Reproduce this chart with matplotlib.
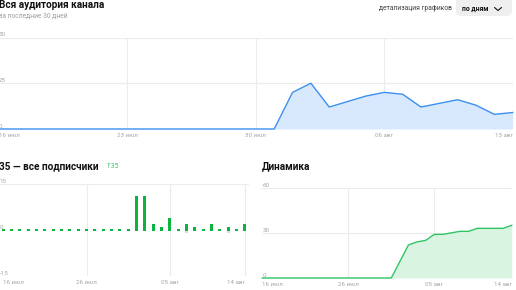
import numpy as np
import matplotlib
matplotlib.use("Agg")
import matplotlib.pyplot as plt
from matplotlib.patches import FancyBboxPatch

plt.rcParams['font.family'] = ['Roboto', 'DejaVu Sans']

# ---- data ----
# top chart: all audience, 16 Jul .. 13 Aug
aud_days = list(range(29))
audience = [0, 0, 0, 0, 0, 0, 0, 0, 0, 0, 0, 0, 0, 0, 0, 0,
            20, 25, 12, 15, 18, 20, 19, 12, 14, 16, 13, 8, 9]
aud_ticks = [0, 7, 14, 21, 28]
aud_labels = ["16 июл", "23 июл", "30 июл", "06 авг", "13 авг"]
aud_yticks = [0, 25, 50]

# subscribers, 16 Jul .. 14 Aug
sub_days = list(range(30))
joined = [0, 0, 0, 0, 0, 0, 0, 0, 0, 0, 0, 0, 0, 0, 0, 0,
          11, 11, 2, 1, 4, 0, 2, 1, 0, 2, 0, 1, 0, 2]
left = [0, 0, 0, 0, 0, 0, 0, 0, 0, 0, 0, 0, 0, 0, 0, 0,
        0, 0, 0, 0, 0, 0, -1, 0, 0, 0, 0, -1, 0, 0]
total = [0, 0, 0, 0, 0, 0, 0, 0, 0, 0, 0, 0, 0, 0, 0, 0,
         11, 22, 24, 25, 29, 29, 30, 31, 31, 33, 33, 33, 33, 35]
sub_ticks = [0, 10, 20, 29]
sub_labels = ["16 июл", "26 июл", "05 авг", "14 авг"]
bar_yticks = [-15, 0, 15]
dyn_yticks = [0, 30, 60]

W, H = 516, 290
fig = plt.figure(figsize=(W / 100, H / 100), dpi=100)
fig.patch.set_facecolor("white")

GRID = "#ececec"
TICK = "#a8a8a8"


def px_axes(x0, y0, x1, y1):
    # pixel box (top-left origin) -> figure axes
    return fig.add_axes([x0 / W, 1 - y1 / H, (x1 - x0) / W, (y1 - y0) / H])


def style(ax, ticks, labels, yticks):
    for s in ax.spines.values():
        s.set_visible(False)
    ax.set_yticks([])
    ax.set_xticks(ticks, labels)
    ax.tick_params(axis="x", length=0, labelsize=4.5, labelcolor=TICK, pad=3)
    lb = ax.get_xticklabels()
    lb[0].set_ha("left")
    lb[-1].set_ha("right")
    for t in ticks[1:]:
        ax.axvline(t, color=GRID, lw=0.8, zorder=0)
    for v in yticks:
        ax.axhline(v, color=GRID, lw=0.8, zorder=0)
        ax.text(0.0, v, str(v), transform=ax.get_yaxis_transform(),
                fontsize=4.5, color=TICK, ha="left", va="bottom")


# ---- top: all audience ----
ax1 = px_axes(-1, 37.5, 512.7, 129)
ax1.set_xlim(0, 28)
ax1.set_ylim(0, 50)
style(ax1, aud_ticks, aud_labels, aud_yticks)
ax1.fill_between(aud_days, audience, 0, color="#d8e9fd", lw=0, zorder=1)
ax1.plot(aud_days, audience, color="#3a8ff0", lw=1.0, zorder=2, clip_on=False)

# ---- bottom left: subscribers bars ----
ax2 = px_axes(-0.4, 184, 249.3, 276)
ax2.set_xlim(-0.45, 29.55)
ax2.set_ylim(-15, 15)
style(ax2, sub_ticks, sub_labels, bar_yticks)
ax2.axhline(0, color="white", lw=1.0, zorder=0)
ax2.bar(sub_days, left, width=0.36, color="#dcdcdc", zorder=2)
ax2.bar(sub_days, joined, width=0.36, color="#0bb43e", zorder=3)
ax2.bar(sub_days, [0.7] * len(sub_days), bottom=-0.35, width=0.36,
        color="#0bb43e", zorder=3)

# ---- bottom right: dynamics ----
ax3 = px_axes(262.3, 187.7, 511.7, 278)
ax3.set_xlim(0, 29)
ax3.set_ylim(0, 60)
style(ax3, sub_ticks, sub_labels, dyn_yticks)
ax3.fill_between(sub_days, total, 0, color="#daf4e2", lw=0, zorder=1)
ax3.plot(sub_days, total, color="#2ec464", lw=1.0, zorder=2, clip_on=False)

# ---- texts and decorations in pixel coords ----
ov = fig.add_axes([0, 0, 1, 1], zorder=5)
ov.set_xlim(0, W)
ov.set_ylim(H, 0)
ov.axis("off")
ov.patch.set_alpha(0)

ov.text(-1, 4.5, "Вся аудитория канала", fontsize=7.2, fontweight="bold",
        color="#111111", ha="left", va="center")
ov.text(-1, 16.5, "за последние 30 дней", fontsize=4.9, color="#a0a0a0",
        ha="left", va="center")
ov.text(452, 9, "детализация графиков", fontsize=4.9, color="#444444",
        ha="right", va="center")
ov.add_patch(FancyBboxPatch((456, -6), 56, 22, boxstyle="round,pad=0,rounding_size=5",
                            fc="#efefef", ec="none"))
ov.text(462, 9, "по дням", fontsize=4.9, fontweight="bold", color="#111111",
        ha="left", va="center")
ov.plot([494.5, 498, 501.5], [7.5, 10.5, 7.5], color="#111111", lw=0.8,
        solid_capstyle="round")

ov.text(-1, 166, "35 — все подписчики", fontsize=7.2, fontweight="bold",
        color="#111111", ha="left", va="center")
ov.text(106, 166, "↑35", fontsize=4.8, color="#3cc36a", ha="left", va="center",
        family=["DejaVu Sans"])
ov.text(262, 166, "Динамика", fontsize=7.2, fontweight="bold",
        color="#111111", ha="left", va="center")

fig.savefig("out.png", dpi=100, facecolor="white")
